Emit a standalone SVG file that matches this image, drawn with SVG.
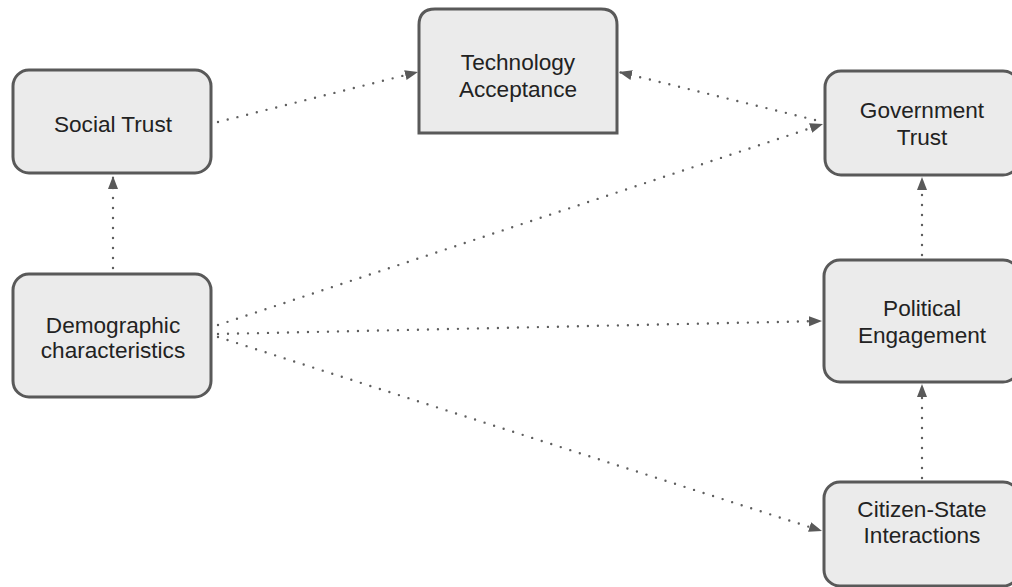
<svg xmlns="http://www.w3.org/2000/svg" width="1012" height="587" viewBox="0 0 1012 587">
<style>
.box{fill:#ebebeb;stroke:#595959;stroke-width:3}
.lbl{font-family:"Liberation Sans",Arial,sans-serif;font-size:22.6px;fill:#222;text-anchor:middle}
.con{fill:none;stroke:#5f5f5f;stroke-width:2.4;stroke-linecap:round;stroke-dasharray:0 10}
</style>
<defs>
<marker id="ah" markerUnits="userSpaceOnUse" markerWidth="15" markerHeight="12" refX="13" refY="5" orient="auto">
<path d="M0,0 L13,5 L0,10 Z" fill="#595959"/>
</marker>
</defs>
<rect width="1012" height="587" fill="#fff"/>
<g id="connectors">
<line class="con" x1="113" y1="268" x2="113" y2="176" marker-end="url(#ah)"/>
<line class="con" x1="922" y1="255" x2="922" y2="177" marker-end="url(#ah)"/>
<line class="con" x1="922" y1="478" x2="922" y2="384" marker-end="url(#ah)"/>
<line class="con" x1="218" y1="122" x2="418" y2="72" marker-end="url(#ah)"/>
<line class="con" x1="815" y1="120" x2="619" y2="72" marker-end="url(#ah)"/>
<line class="con" x1="218" y1="325" x2="823" y2="124" marker-end="url(#ah)"/>
<line class="con" x1="218" y1="334" x2="822" y2="321" marker-end="url(#ah)"/>
<line class="con" x1="218" y1="337" x2="822" y2="531" marker-end="url(#ah)"/>
</g>
<g id="social-trust">
<rect class="box" x="13" y="70" width="198" height="103" rx="16"/>
<text class="lbl" x="113" y="132">Social Trust</text>
</g>
<g id="technology-acceptance">
<path class="box" d="M419,133 V25 Q419,9 435,9 H601 Q617,9 617,25 V133 Z"/>
<text class="lbl" x="518" y="70">Technology</text>
<text class="lbl" x="518" y="97">Acceptance</text>
</g>
<g id="government-trust">
<rect class="box" x="825" y="71" width="194" height="104" rx="16"/>
<text class="lbl" x="922" y="118">Government</text>
<text class="lbl" x="922" y="145">Trust</text>
</g>
<g id="demographic">
<rect class="box" x="13" y="274" width="198" height="123" rx="16"/>
<text class="lbl" x="113" y="333">Demographic</text>
<text class="lbl" x="113" y="358">characteristics</text>
</g>
<g id="political-engagement">
<rect class="box" x="824" y="260" width="195" height="122" rx="16"/>
<text class="lbl" x="922" y="316">Political</text>
<text class="lbl" x="922" y="343">Engagement</text>
</g>
<g id="citizen-state">
<rect class="box" x="824" y="482" width="195" height="104" rx="16"/>
<text class="lbl" x="922" y="517">Citizen-State</text>
<text class="lbl" x="922" y="543">Interactions</text>
</g>
</svg>
